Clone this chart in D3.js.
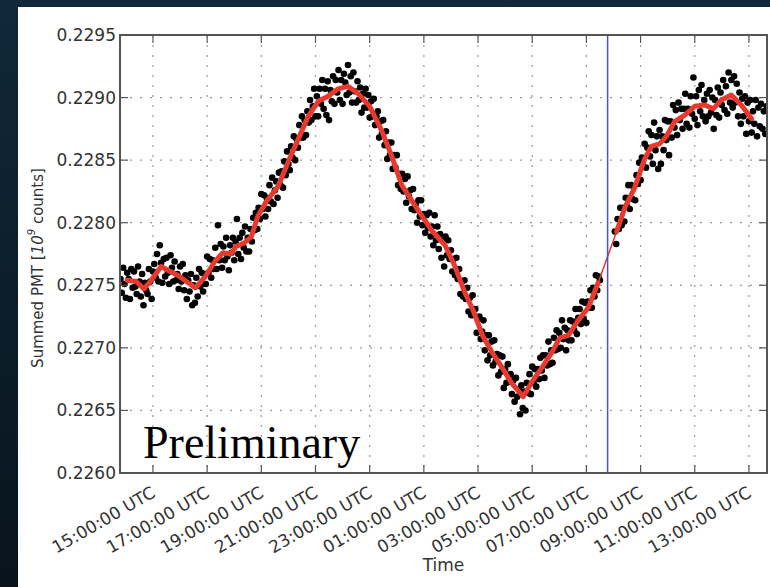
<!DOCTYPE html>
<html>
<head>
<meta charset="utf-8">
<script src="https://cdn.jsdelivr.net/npm/d3@7"></script>
<style>
  body { margin: 0; background: #0d2230; }
  svg { display: block; }
</style>
</head>
<body>
<div id="pmt-chart"></div>
<script>
// Summed PMT counts over one day, with a running mean (red) and a marker line (blue)

// axis range and ticks
const xStart = "13:47", xEnd = "13:40";
const xTickTimes = ["15:00", "17:00", "19:00", "21:00", "23:00", "01:00", "03:00",
                    "05:00", "07:00", "09:00", "11:00", "13:00"];
const yTicks = [0.2260, 0.2265, 0.2270, 0.2275, 0.2280, 0.2285, 0.2290, 0.2295];
const markerTime = "07:47";
const dataGap = ["07:30", "08:03"];

// raw samples, one every 3 minutes, first run starts 13:48, second run starts 08:03
const sampleStep = 3;
const runAStart = "13:48";
const runAValues = [
  0.22755,0.22744,0.22764,0.22751,0.22740,0.22760,0.22755,0.22739,0.22763,0.22748,
  0.22761,0.22749,0.22743,0.22765,0.22753,0.22741,0.22759,0.22734,0.22752,0.22746,
  0.22743,0.22763,0.22753,0.22739,0.22761,0.22767,0.22756,0.22775,0.22753,0.22782,
  0.22768,0.22752,0.22771,0.22757,0.22772,0.22760,0.22751,0.22774,0.22764,0.22753,
  0.22769,0.22754,0.22759,0.22747,0.22765,0.22753,0.22767,0.22746,0.22758,0.22739,
  0.22754,0.22745,0.22759,0.22734,0.22750,0.22736,0.22756,0.22741,0.22763,0.22749,
  0.22760,0.22745,0.22759,0.22751,0.22773,0.22760,0.22771,0.22756,0.22770,0.22763,
  0.22780,0.22763,0.22798,0.22770,0.22783,0.22764,0.22781,0.22770,0.22788,0.22773,
  0.22762,0.22782,0.22776,0.22788,0.22770,0.22785,0.22803,0.22775,0.22788,0.22771,
  0.22792,0.22780,0.22797,0.22777,0.22788,0.22777,0.22795,0.22785,0.22804,0.22794,
  0.22808,0.22795,0.22812,0.22803,0.22823,0.22811,0.22822,0.22805,0.22820,0.22811,
  0.22830,0.22817,0.22836,0.22815,0.22826,0.22833,0.22820,0.22840,0.22830,0.22841,
  0.22828,0.22849,0.22838,0.22857,0.22847,0.22842,0.22861,0.22852,0.22869,0.22850,
  0.22867,0.22860,0.22878,0.22868,0.22885,0.22868,0.22882,0.22870,0.22889,0.22880,
  0.22898,0.22882,0.22893,0.22907,0.22885,0.22901,0.22885,0.22907,0.22895,0.22914,
  0.22891,0.22907,0.22886,0.22913,0.22882,0.22906,0.22897,0.22917,0.22895,0.22914,
  0.22904,0.22922,0.22898,0.22914,0.22895,0.22919,0.22912,0.22902,0.22926,0.22904,
  0.22917,0.22896,0.22920,0.22905,0.22896,0.22913,0.22898,0.22908,0.22888,0.22903,
  0.22892,0.22907,0.22892,0.22902,0.22884,0.22897,0.22885,0.22899,0.22878,0.22885,
  0.22889,0.22868,0.22881,0.22871,0.22882,0.22862,0.22873,0.22851,0.22864,0.22854,
  0.22864,0.22843,0.22854,0.22844,0.22854,0.22830,0.22839,0.22827,0.22839,0.22825,
  0.22835,0.22816,0.22837,0.22821,0.22826,0.22811,0.22827,0.22810,0.22815,0.22800,
  0.22818,0.22805,0.22818,0.22798,0.22807,0.22792,0.22806,0.22796,0.22808,0.22789,
  0.22797,0.22782,0.22806,0.22786,0.22797,0.22779,0.22791,0.22772,0.22786,0.22765,
  0.22789,0.22774,0.22786,0.22771,0.22778,0.22761,0.22771,0.22758,0.22772,0.22755,
  0.22763,0.22743,0.22753,0.22741,0.22754,0.22739,0.22748,0.22729,0.22740,0.22726,
  0.22742,0.22726,0.22731,0.22712,0.22723,0.22725,0.22707,0.22713,0.22722,0.22698,
  0.22710,0.22690,0.22710,0.22694,0.22705,0.22686,0.22706,0.22689,0.22695,0.22678,
  0.22694,0.22681,0.22693,0.22668,0.22683,0.22672,0.22687,0.22673,0.22679,0.22663,
  0.22674,0.22657,0.22676,0.22661,0.22667,0.22647,0.22670,0.22652,0.22665,0.22650,
  0.22672,0.22664,0.22679,0.22663,0.22685,0.22672,0.22683,0.22669,0.22683,0.22675,
  0.22692,0.22682,0.22694,0.22676,0.22694,0.22686,0.22705,0.22687,0.22698,0.22688,
  0.22708,0.22698,0.22714,0.22699,0.22712,0.22700,0.22722,0.22707,0.22716,0.22698,
  0.22714,0.22706,0.22722,0.22706,0.22721,0.22714,0.22731,0.22711,0.22724,0.22731,
  0.22719,0.22737,0.22723,0.22736,0.22720,0.22737,0.22732,0.22746,0.22732,0.22748,
  0.22741,0.22758,0.22746,0.22757,0.22754
];
const runBStart = "08:03";
const runBValues = [
  0.22793,0.22783,0.22803,0.22795,0.22812,0.22798,0.22812,0.22801,0.22820,0.22813,
  0.22830,0.22811,0.22830,0.22819,0.22829,0.22818,0.22838,0.22831,0.22848,0.22834,
  0.22852,0.22845,0.22863,0.22844,0.22860,0.22873,0.22853,0.22870,0.22847,0.22880,
  0.22858,0.22869,0.22843,0.22874,0.22847,0.22869,0.22858,0.22882,0.22866,0.22881,
  0.22854,0.22881,0.22868,0.22894,0.22876,0.22890,0.22870,0.22896,0.22882,0.22891,
  0.22875,0.22891,0.22903,0.22879,0.22891,0.22876,0.22901,0.22887,0.22916,0.22883,
  0.22901,0.22878,0.22906,0.22889,0.22910,0.22885,0.22898,0.22881,0.22903,0.22885,
  0.22906,0.22888,0.22900,0.22875,0.22898,0.22886,0.22908,0.22884,0.22904,0.22894,
  0.22914,0.22890,0.22909,0.22887,0.22920,0.22896,0.22914,0.22892,0.22917,0.22896,
  0.22911,0.22885,0.22904,0.22879,0.22899,0.22885,0.22901,0.22871,0.22896,0.22881,
  0.22898,0.22872,0.22889,0.22879,0.22898,0.22869,0.22892,0.22877,0.22895,0.22875,
  0.22889,0.22871,0.22893
];

// running mean (red)
const meanTimes = [
  "14:03","14:23","14:40","14:56","15:18","15:33","15:55","16:14","16:34","16:56",
  "17:17","17:35","17:52","18:04","18:23","18:38","18:52","19:11","19:37","20:00",
  "20:22","20:44","21:06","21:28","21:50","22:12","22:35","23:00","23:26","23:48",
  "00:11","00:47","01:17","01:47","02:09","02:31","02:49","03:11","03:30","03:52",
  "04:14","04:40","04:58","05:21","05:43","06:01","06:20","06:42","07:04","07:26",
  "08:07","08:25","08:47","09:09","09:24","09:42","09:57","10:16","10:38","11:00",
  "11:22","11:41","11:59","12:21","12:43","13:06"
];
const meanValues = [
  0.22754,0.22753,0.22747,0.22754,0.22765,0.22762,0.22758,0.22753,0.22748,0.22757,
  0.22769,0.22776,0.22775,0.22781,0.22784,0.22789,0.22805,0.22817,0.22829,0.22849,
  0.22867,0.22885,0.22897,0.22901,0.22907,0.22909,0.22903,0.22893,0.22874,0.22854,
  0.22830,0.22810,0.22794,0.22782,0.22765,0.22744,0.22730,0.22709,0.22697,0.22685,
  0.22672,0.22661,0.22672,0.22684,0.22696,0.22708,0.22710,0.22722,0.22732,0.22752,
  0.22793,0.22812,0.22828,0.22851,0.22861,0.22863,0.22869,0.22881,0.22886,0.22893,
  0.22894,0.22891,0.22898,0.22902,0.22894,0.22883
];

// "HH:MM" -> date; the chart runs from 13:47 one day to 13:40 the next
function toDate(s) {
  const [h, m] = s.split(":").map(Number);
  const day = (h * 60 + m) >= 13 * 60 + 45 ? 14 : 15;
  return new Date(Date.UTC(2014, 0, day, h, m));
}

(function() {
  const fullW = 770, fullH = 587;
  const margin = {top: 35, right: 3, bottom: 114, left: 120},
      width = fullW - margin.left - margin.right,
      height = fullH - margin.top - margin.bottom;

  const root = d3.select("#pmt-chart")
    .append("svg")
    .attr("width", fullW)
    .attr("height", fullH)
    .style("font-family", "'DejaVu Sans', sans-serif");

  // slide background and white panel
  const grad = root.append("defs").append("linearGradient")
    .attr("id", "bg").attr("x1", 0).attr("y1", 0).attr("x2", 0).attr("y2", 1);
  grad.append("stop").attr("offset", 0).attr("stop-color", "#10283a");
  grad.append("stop").attr("offset", 1).attr("stop-color", "#08141c");
  root.append("rect").attr("width", fullW).attr("height", fullH).attr("fill", "url(#bg)");
  root.append("rect").attr("x", 18).attr("y", 7)
    .attr("width", fullW - 18).attr("height", fullH - 7).attr("fill", "#fff");

  root.select("defs").append("clipPath").attr("id", "plot-clip")
    .append("rect").attr("width", width).attr("height", height);

  const svg = root.append("g")
    .attr("transform", `translate(${margin.left},${margin.top})`);

  const x = d3.scaleUtc()
    .domain([toDate(xStart), toDate(xEnd)])
    .range([0, width]);

  const y = d3.scaleLinear()
    .domain([yTicks[0], yTicks[yTicks.length - 1]])
    .range([height, 0]);

  const xTicks = xTickTimes.map(toDate);

  // dotted grid
  svg.append("g").selectAll("line")
    .data(xTicks).enter().append("line")
    .attr("x1", d => x(d)).attr("x2", d => x(d))
    .attr("y1", 0).attr("y2", height)
    .attr("stroke", "#999").attr("stroke-width", 1.2)
    .attr("stroke-dasharray", "2,8");
  svg.append("g").selectAll("line")
    .data(yTicks).enter().append("line")
    .attr("x1", 0).attr("x2", width)
    .attr("y1", d => y(d)).attr("y2", d => y(d))
    .attr("stroke", "#999").attr("stroke-width", 1.2)
    .attr("stroke-dasharray", "2,8");

  // samples
  const samples = runAValues.map((v, i) => ({t: d3.utcMinute.offset(toDate(runAStart), i * sampleStep), v}))
    .concat(runBValues.map((v, i) => ({t: d3.utcMinute.offset(toDate(runBStart), i * sampleStep), v})));

  const plot = svg.append("g").attr("clip-path", "url(#plot-clip)");

  plot.selectAll("circle")
    .data(samples)
    .enter()
    .append("circle")
    .attr("cx", d => x(d.t))
    .attr("cy", d => y(d.v))
    .attr("r", 3.3)
    .attr("fill", "#000");

  // running mean: thin line across everything, thick where there is data
  const mean = meanTimes.map((t, i) => ({t: toDate(t), v: meanValues[i]}));
  const line = d3.line()
    .x(d => x(d.t))
    .y(d => y(d.v));

  plot.append("path")
    .datum(mean)
    .attr("fill", "none")
    .attr("stroke", "#e8392e")
    .attr("stroke-width", 1.5)
    .attr("d", line);

  const gapA = toDate(dataGap[0]), gapB = toDate(dataGap[1]);
  [mean.filter(d => d.t <= gapA), mean.filter(d => d.t >= gapB)].forEach(seg => {
    plot.append("path")
      .datum(seg)
      .attr("fill", "none")
      .attr("stroke", "#e8392e")
      .attr("stroke-width", 5)
      .attr("stroke-linejoin", "round")
      .attr("stroke-linecap", "round")
      .attr("d", line);
  });

  // marker
  svg.append("line")
    .attr("x1", x(toDate(markerTime))).attr("x2", x(toDate(markerTime)))
    .attr("y1", 0).attr("y2", height)
    .attr("stroke", "#4355cc").attr("stroke-width", 1.5);

  // inner tick marks on all four sides
  const tk = svg.append("g").attr("stroke", "#555").attr("stroke-width", 1.2);
  xTicks.forEach(d => {
    tk.append("line").attr("x1", x(d)).attr("x2", x(d)).attr("y1", height).attr("y2", height - 8);
    tk.append("line").attr("x1", x(d)).attr("x2", x(d)).attr("y1", 0).attr("y2", 8);
  });
  yTicks.forEach(d => {
    tk.append("line").attr("x1", 0).attr("x2", 8).attr("y1", y(d)).attr("y2", y(d));
    tk.append("line").attr("x1", width).attr("x2", width - 8).attr("y1", y(d)).attr("y2", y(d));
  });

  // frame
  svg.append("rect")
    .attr("width", width).attr("height", height)
    .attr("fill", "none").attr("stroke", "#555").attr("stroke-width", 2);

  // Y axis labels
  const yAxis = svg.append("g")
    .call(d3.axisLeft(y).tickValues(yTicks).tickFormat(d3.format(".4f")).tickSize(0).tickPadding(4));
  yAxis.select(".domain").remove();
  yAxis.selectAll("text").attr("font-size", 17).attr("fill", "#333")
    .attr("font-family", "'DejaVu Sans', sans-serif");

  // X axis labels, rotated
  const xAxis = svg.append("g")
    .attr("transform", `translate(0,${height})`)
    .call(d3.axisBottom(x).tickValues(xTicks).tickFormat(d3.utcFormat("%H:%M:%S UTC")).tickSize(0));
  xAxis.select(".domain").remove();
  xAxis.selectAll("text")
    .attr("x", 0).attr("y", 0).attr("dy", 0)
    .attr("transform", "translate(3,23) rotate(-30)")
    .attr("text-anchor", "end")
    .attr("font-size", 17).attr("fill", "#333")
    .attr("font-family", "'DejaVu Sans', sans-serif");

  // axis titles
  svg.append("text")
    .attr("x", width / 2)
    .attr("y", height + 98)
    .attr("text-anchor", "middle")
    .attr("font-size", 17).attr("fill", "#333")
    .text("Time");

  const yl = svg.append("text")
    .attr("transform", `translate(${38 - margin.left},${height / 2 + 14}) rotate(-90)`)
    .attr("text-anchor", "middle")
    .attr("dominant-baseline", "central")
    .attr("font-size", 15).attr("fill", "#333");
  yl.append("tspan").text("Summed PMT [");
  yl.append("tspan").attr("font-style", "italic").text("10");
  yl.append("tspan").attr("font-style", "italic").attr("font-size", 10).attr("dy", -7).text("9");
  yl.append("tspan").attr("dy", 7).text(" counts]");

  // watermark
  svg.append("text")
    .attr("x", 143 - margin.left)
    .attr("y", 458 - margin.top)
    .attr("font-family", "'Liberation Serif', serif")
    .attr("font-size", 46)
    .attr("fill", "#000")
    .text("Preliminary");
})();
</script>
</body>
</html>
